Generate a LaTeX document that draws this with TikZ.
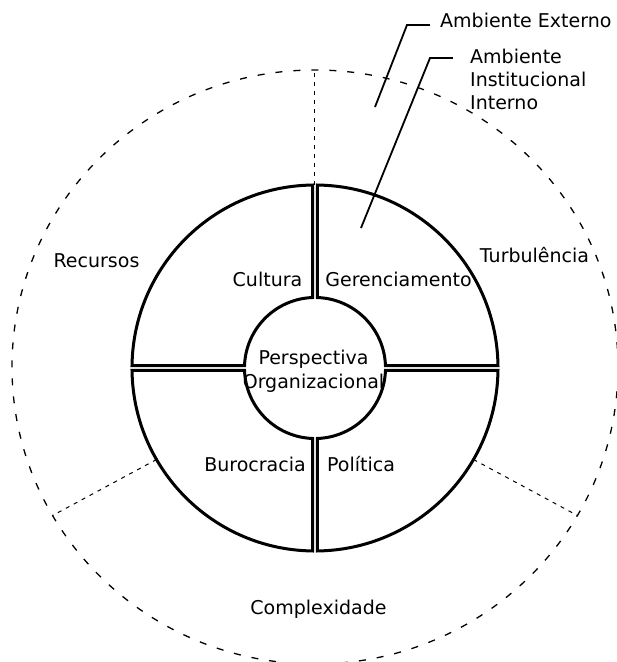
\documentclass[tikz,border=0pt]{standalone}
\usepackage{fontspec}
\setmainfont{DejaVu Sans}
\usetikzlibrary{calc}
\begin{document}
\begin{tikzpicture}[x=1pt,y=1pt,
  ringline/.style={line width=3pt, line join=miter},
  leader/.style={line width=1.8pt},
  outerdash/.style={line width=1.3pt, dash pattern=on 7pt off 11pt},
  sectordash/.style={line width=1pt, dash pattern=on 4pt off 5pt},
  lbl/.style={font=\fontsize{19pt}{23.5pt}\selectfont, inner sep=0pt, anchor=base}]
\useasboundingbox (-315,-294) rectangle (302,368);
\fill[white] (-315,-294) rectangle (302,368);

% outer environment boundary and its three sectors
\draw[outerdash] (0,1) ellipse [x radius=303, y radius=297];
\foreach \a in {90,210,330}
  \draw[sectordash] (\a:183) -- ({303*cos(\a)},{1+297*sin(\a)});

% four quadrants of the institutional ring, separated by a small gap
\foreach \a in {0,90,180,270} {
  \draw[ringline] (\a+2.03:70.5) -- (\a+0.78:183)
    arc[start angle=\a+0.78, end angle=\a+89.22, radius=183]
    -- (\a+87.97:70.5)
    arc[start angle=\a+87.97, end angle=\a+2.03, radius=70.5] -- cycle;
}

% labels (multi-line nodes: base anchor sits on the last line)
\node[lbl] (recursos) at (-218.5,101) {Recursos};
\node[lbl] (turbulencia) at (219.5,106) {Turbulência};
\node[lbl] (complexidade) at (3.5,-246) {Complexidade};
\node[lbl] (cultura) at (-47.5,82) {Cultura};
\node[lbl] (gerenciamento) at (83.5,82) {Gerenciamento};
\node[lbl] (burocracia) at (-60,-103) {Burocracia};
\node[lbl] (politica) at (46,-103) {Política};
\node[lbl, align=center] (persp) at (-1.5,-20) {Perspectiva\\Organizacional};
\node[lbl, anchor=base west] (extLabel) at (125,340) {Ambiente Externo};
\node[lbl, anchor=base west, align=left] (intLabel) at (155,258)
  {Ambiente\\Institucional\\Interno};

% leader lines
\coordinate (extTip) at (60,261);
\coordinate (intTip) at (46,140);
\draw[leader] (extTip) -- ($(extLabel.base west)+(-33,3)$)
  -- ($(extLabel.base west)+(-10,3)$);
\draw[leader] (intTip) -- ($(intLabel.base west)+(-40,52)$)
  -- ($(intLabel.base west)+(-17,52)$);
\end{tikzpicture}
\end{document}
